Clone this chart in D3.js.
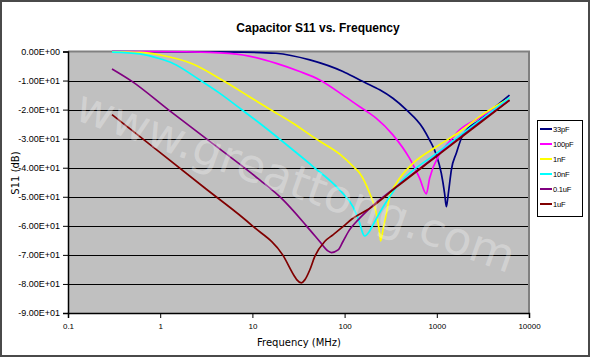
<!DOCTYPE html>
<html>
<head>
<meta charset="utf-8">
<script src="https://cdn.jsdelivr.net/npm/d3@7/dist/d3.min.js"></script>
<style>
  html, body { margin: 0; padding: 0; background: #fff; }
  svg { display: block; }
</style>
</head>
<body>
<script>
// ---------- DATA ----------
const seriesNames = ["33pF", "100pF", "1nF", "10nF", "0.1uF", "1uF"];

const freq33pF = [0.3, 3, 8, 18, 42, 96, 146, 172, 240, 334, 468, 708, 836, 988, 1119, 1215, 1268, 1320, 1377, 1437, 1627, 1918, 2910, 6150];
const s11_33pF = [0, -0.1, -0.2, -0.6, -2.9, -6.9, -9.8, -10.9, -13.2, -16.1, -20.1, -26.4, -30.5, -35.5, -41.9, -48.8, -53.4, -50, -45.4, -40.8, -35, -28.7, -23.6, -15];

const freq100pF = [0.3, 1, 3.45, 7.9, 18.2, 32.6, 53.7, 96, 146, 187, 221, 334, 507, 651, 769, 836, 1060, 1377, 1766, 2910, 6150];
const s11_100pF = [0, 0, -0.3, -1.2, -4.1, -6.9, -9.8, -15, -19, -21.3, -23, -28.7, -36.8, -43.6, -49, -43.6, -35.6, -31, -27, -22.8, -16.1];

const freq1nF = [0.3, 0.6, 1, 2.26, 4.8, 9, 15.3, 27.6, 48.5, 90, 128, 146, 187, 221, 240, 246, 262, 284, 308, 364, 551, 988, 1766, 2910, 6150];
const s11_1nF = [-0.1, -0.3, -1.2, -4.3, -10, -15.3, -19.8, -24.7, -30, -35.5, -40, -41.9, -48.8, -55.7, -62.6, -65.2, -61, -55.7, -50, -45.4, -38.5, -32.8, -27.6, -22.4, -16.1];

const freq10nF = [0.3, 0.6, 1, 1.38, 2.69, 4.44, 7.3, 12, 27.6, 45.5, 88.5, 123, 146, 155, 165, 185, 203, 240, 300, 400, 1000, 2910, 6150];
const s11_10nF = [-0.2, -0.8, -2.5, -4.1, -9.8, -14.4, -19.5, -24.7, -33.9, -39.6, -47.7, -53.4, -59.1, -62, -63.5, -62, -59.7, -55.5, -50.5, -45.2, -35, -23.8, -15.9];

const freq01uF = [0.3, 0.49, 1.22, 3.31, 12, 20.6, 38.5, 53.7, 65, 72, 85, 96, 113, 134, 180, 364, 1000, 2910, 6150];
const s11_01uF = [-6, -10.2, -20, -30.5, -44.2, -50.5, -60, -65.4, -68.5, -69.2, -68.3, -65.4, -61.4, -58.6, -54.5, -46.5, -35.8, -24.4, -16.7];

const freq1uF = [0.3, 1, 3, 10, 21.3, 28.8, 30.4, 34, 37, 41.9, 47.4, 60.8, 74.8, 96, 123, 187, 364, 1000, 2910, 6150];
const s11_1uF = [-21.7, -34.8, -46.8, -60, -70, -77.5, -78.6, -79.6, -78.6, -75.2, -70.6, -65.4, -63.1, -60.3, -57.4, -54, -46.7, -36, -24.7, -16.8];

const xTickValues = [0.1, 1, 10, 100, 1000, 10000];
const xTickLabels = ["0.1", "1", "10", "100", "1000", "10000"];
const yTickValues = [0, -10, -20, -30, -40, -50, -60, -70, -80, -90];
const yTickLabels = ["0.00E+00", "-1.00E+01", "-2.00E+01", "-3.00E+01", "-4.00E+01", "-5.00E+01", "-6.00E+01", "-7.00E+01", "-8.00E+01", "-9.00E+01"];

// ---------- STYLE / LAYOUT ----------
const seriesColors = ["#000080", "#ff00ff", "#ffff00", "#00ffff", "#800080", "#800000"];
const seriesFreqs = [freq33pF, freq100pF, freq1nF, freq10nF, freq01uF, freq1uF];
const seriesVals = [s11_33pF, s11_100pF, s11_1nF, s11_10nF, s11_01uF, s11_1uF];

const W = 590, H = 357;
const plot = { left: 68, right: 529, top: 51.5, bottom: 313 };

const svg = d3.select("body").append("svg").attr("width", W).attr("height", H);

svg.append("rect").attr("x", 0).attr("y", 0).attr("width", W).attr("height", H).attr("fill", "#fff");
svg.append("rect").attr("x", 1).attr("y", 1).attr("width", W - 2).attr("height", H - 2)
  .attr("fill", "none").attr("stroke", "#4a4a4a").attr("stroke-width", 2);

const x = d3.scaleLog().domain([0.1, 10000]).range([plot.left, plot.right]);
const y = d3.scaleLinear().domain([-90, 0]).range([plot.bottom, plot.top]);

// plot background
svg.append("rect").attr("x", plot.left).attr("y", plot.top)
  .attr("width", plot.right - plot.left).attr("height", plot.bottom - plot.top)
  .attr("fill", "#c0c0c0");

// gridlines
svg.append("g").selectAll("line").data(yTickValues.filter(v => v !== 0 && v !== -90)).join("line")
  .attr("x1", plot.left).attr("x2", plot.right)
  .attr("y1", d => Math.round(y(d)) + 0.5).attr("y2", d => Math.round(y(d)) + 0.5)
  .attr("stroke", "#000").attr("stroke-width", 1);

// plot border (top/right gray)
svg.append("path")
  .attr("d", `M${plot.left},${plot.top} H${plot.right} V${plot.bottom}`)
  .attr("fill", "none").attr("stroke", "#808080").attr("stroke-width", 2);

// series lines
const line = d3.line().x(d => x(d[0])).y(d => y(d[1])).curve(d3.curveMonotoneX);
svg.append("clipPath").attr("id", "clip").append("rect")
  .attr("x", plot.left).attr("y", plot.top - 2).attr("width", plot.right - plot.left).attr("height", plot.bottom - plot.top + 2);
const gLines = svg.append("g").attr("clip-path", "url(#clip)");
seriesNames.forEach((name, i) => {
  const pts = seriesFreqs[i].map((f, j) => [f, seriesVals[i][j]]);
  gLines.append("path").datum(pts)
    .attr("d", line).attr("fill", "none")
    .attr("stroke", seriesColors[i]).attr("stroke-width", 1.7)
    .attr("stroke-linejoin", "round");
});

// watermark
svg.append("text")
  .attr("transform", "translate(296,181) rotate(19.5)")
  .attr("text-anchor", "middle").attr("dominant-baseline", "central")
  .attr("font-family", "DejaVu Sans").attr("font-size", 46)
  .attr("fill", "#ffffff").attr("fill-opacity", 0.3)
  .text("www.greattong.com");

// axes
const yAxis = d3.axisLeft(y).tickValues(yTickValues).tickSize(5).tickPadding(3)
  .tickFormat((d, i) => yTickLabels[i]);
const gy = svg.append("g").attr("transform", `translate(${plot.left},0)`).call(yAxis);
gy.select(".domain").attr("stroke", "#000").attr("stroke-width", 1.5);
gy.selectAll(".tick line").attr("stroke", "#000");
gy.selectAll(".tick text").attr("font-family", "Liberation Sans, Arial, sans-serif").attr("font-size", 9).attr("fill", "#000");

const xAxis = d3.axisBottom(x).tickValues(xTickValues).tickSize(5).tickPadding(5)
  .tickFormat((d, i) => xTickLabels[i]);
const gx = svg.append("g").attr("transform", `translate(0,${plot.bottom})`).call(xAxis);
gx.select(".domain").attr("stroke", "#000").attr("stroke-width", 1.5);
gx.selectAll(".tick line").attr("stroke", "#000");
gx.selectAll(".tick text").attr("font-family", "Liberation Sans, Arial, sans-serif").attr("font-size", 8).attr("fill", "#000");

// titles
svg.append("text").attr("x", 318).attr("y", 31.5).attr("text-anchor", "middle")
  .attr("font-family", "Liberation Sans, Arial, sans-serif").attr("font-weight", "bold").attr("font-size", 12)
  .text("Capacitor S11 vs. Frequency");
svg.append("text").attr("x", 299).attr("y", 346).attr("text-anchor", "middle")
  .attr("font-family", "DejaVu Sans, Verdana, sans-serif").attr("font-size", 10)
  .text("Frequency (MHz)");
svg.append("text").attr("transform", "translate(19,173) rotate(-90)").attr("text-anchor", "middle")
  .attr("font-family", "DejaVu Sans, Verdana, sans-serif").attr("font-size", 10)
  .text("S11 (dB)");

// legend
const lg = { x: 537, y: 120, w: 45, h: 96, row: 15, first: 129 };
svg.append("rect").attr("x", lg.x + 0.5).attr("y", lg.y + 0.5).attr("width", lg.w).attr("height", lg.h)
  .attr("fill", "#fff").attr("stroke", "#000").attr("stroke-width", 1);
seriesNames.forEach((name, i) => {
  const yy = lg.first + i * lg.row;
  svg.append("line").attr("x1", lg.x + 3).attr("x2", lg.x + 15).attr("y1", yy).attr("y2", yy)
    .attr("stroke", seriesColors[i]).attr("stroke-width", 2);
  svg.append("text").attr("x", lg.x + 16).attr("y", yy).attr("dominant-baseline", "central")
    .attr("font-family", "Liberation Sans, Arial, sans-serif").attr("font-size", 7.5)
    .attr("letter-spacing", -0.2)
    .text(name);
});
</script>
</body>
</html>
